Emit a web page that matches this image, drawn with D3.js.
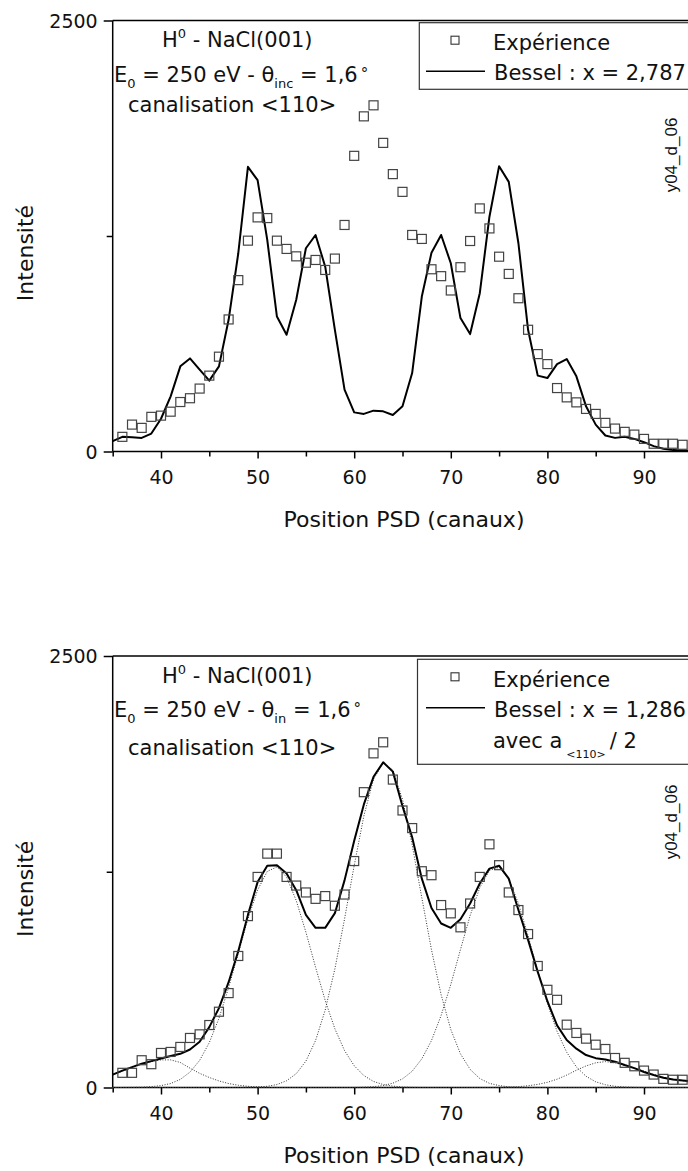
<!DOCTYPE html>
<html>
<head>
<meta charset="utf-8">
<script src="https://cdn.jsdelivr.net/npm/d3@7"></script>
<style>
  body { margin: 0; background: #fff; }
  svg { display: block; }
  text { font-family: "DejaVu Sans", sans-serif; fill: #111; }
</style>
</head>
<body>
<svg id="chart" width="688" height="1171"></svg>
<script>
// channels (canaux) of the PSD
var channels = [35,36,37,38,39,40,41,42,43,44,45,46,47,48,49,50,51,52,53,54,55,56,57,58,59,60,
  61,62,63,64,65,66,67,68,69,70,71,72,73,74,75,76,77,78,79,80,81,82,83,84,85,86,87,88,89,90,
  91,92,93,94,95];
var expChannels = [36,37,38,39,40,41,42,43,44,45,46,47,48,49,50,51,52,53,54,55,56,57,58,59,60,
  61,62,63,64,65,66,67,68,69,70,71,72,73,74,75,76,77,78,79,80,81,82,83,84,85,86,87,88,89,90,
  91,92,93,94];

// top : experience + Bessel x = 2,787
var topExp = [85,156,137,201,208,231,287,309,365,440,550,766,994,1223,1358,1354,1223,1175,1132,1095,
  1111,1053,1119,1314,1715,1944,2008,1790,1609,1506,1256,1233,1057,1017,934,1069,1221,1410,1294,1130,
  1030,889,706,565,507,368,314,285,247,218,166,133,114,98,73,45,45,45,39];
var topFit = [60,85,82,79,104,190,320,494,540,475,411,494,764,1150,1651,1574,1227,783,677,880,
  1179,1256,1072,706,359,227,218,237,233,212,262,455,899,1153,1256,1092,774,681,918,1362,
  1655,1564,1208,706,440,426,507,536,436,262,156,93,79,85,73,54,31,16,8,6,4];

// bottom : experience + Bessel x = 1,286 (a<110>/2) and its components
var botExp = [85,85,158,135,200,206,235,287,308,362,439,547,762,993,1220,1355,1355,1220,1170,1130,
  1093,1109,1053,1118,1312,1711,1936,2000,1784,1605,1503,1253,1230,1057,1009,928,1066,1220,1409,1288,
  1130,1028,889,704,566,508,364,316,283,248,223,171,143,123,98,75,50,45,45];
var botFit = [75,98,118,138,153,168,182,195,220,265,350,460,610,790,1000,1190,1285,1288,1240,1143,
  1000,925,925,1010,1200,1430,1640,1800,1884,1830,1630,1450,1210,1040,950,925,975,1066,1182,1268,
  1285,1210,1028,855,670,500,360,275,225,188,170,162,150,130,112,90,72,56,46,40,35];
var comp1 = [75,95,115,135,150,160,160,145,112,82,58,38,23,13,7,3,1,0,0,0,
  0,0,0,0,0,0,0,0,0,0,0,0,0,0,0,0,0,0,0,0,0,0,0,0,0,0,0,0,0,0,0,0,0,0,0,0,0,0,0,0,0];
var comp2 = [0,0,1,2,5,11,23,47,89,157,260,401,579,778,977,1144,1252,1278,1219,1083,
  900,697,504,340,214,126,69,35,17,8,3,1,0,0,0,0,0,0,0,0,0,0,0,0,0,0,0,0,0,0,0,0,0,0,0,0,0,0,0,0,0];
var comp3 = [0,0,0,0,0,0,0,0,0,0,0,0,0,0,1,3,7,17,39,80,
  153,272,449,687,976,1286,1573,1786,1881,1840,1669,1406,1099,798,537,336,195,105,52,24,
  11,4,1,0,0,0,0,0,0,0,0,0,0,0,0,0,0,0,0,0,0];
var comp4 = [0,0,0,0,0,0,0,0,0,0,0,0,0,0,0,0,0,0,0,0,
  0,0,0,0,0,0,2,5,11,25,50,94,166,272,418,597,799,996,1158,1258,
  1276,1207,1067,879,676,486,325,204,119,65,33,16,7,3,1,0,0,0,0,0,0];
var comp5 = [0,0,0,0,0,0,0,0,0,0,0,0,0,0,0,0,0,0,0,0,
  0,0,0,0,0,0,0,0,0,0,0,0,0,0,0,0,0,0,0,0,
  1,2,5,10,18,30,48,72,100,125,143,150,143,128,112,95,75,60,48,40,33];

var xTicksMajor = [40,50,60,70,80,90];
var xTicksMinor = [35,45,55,65,75,85,95];
var yTicksMajor = [0,2500];
var yTicksMinor = [1250];

var svg = d3.select('#chart');
var x = d3.scaleLinear().domain([35,95]).range([112.7, 692.3]);

function panel(cfg)
{
	var y = d3.scaleLinear().domain([0,2500]).range([cfg.y0, cfg.y1]);
	var g = svg.append('g');

	// frame
	g.append('line').attr('x1', x(35)).attr('x2', 700).attr('y1', y(2500)).attr('y2', y(2500))
		.attr('stroke', '#000').attr('stroke-width', 1.5);
	g.append('line').attr('x1', x(35)).attr('x2', x(35)).attr('y1', y(2500)).attr('y2', y(0))
		.attr('stroke', '#000').attr('stroke-width', 1.5);
	g.append('line').attr('x1', x(35)).attr('x2', 700).attr('y1', y(0)).attr('y2', y(0))
		.attr('stroke', '#000').attr('stroke-width', 1.5);

	// x axis
	var ax = g.append('g').attr('transform', 'translate(0,' + y(0) + ')');
	ax.call(d3.axisBottom(x).tickValues(xTicksMinor).tickSize(5).tickFormat(''));
	var axM = g.append('g').attr('transform', 'translate(0,' + y(0) + ')');
	axM.call(d3.axisBottom(x).tickValues(xTicksMajor).tickSize(7).tickFormat(d3.format('d')));
	g.selectAll('.domain').remove();
	axM.selectAll('text').attr('y', 32.5).attr('dy', 0)
		.style('font-size', '19px').style('font-family', '"DejaVu Sans", sans-serif').attr('fill', '#111');

	// y axis
	var ay = g.append('g').attr('transform', 'translate(' + x(35) + ',0)');
	ay.call(d3.axisLeft(y).tickValues(yTicksMajor).tickSize(9).tickPadding(6).tickFormat(d3.format('d')));
	var ayMin = g.append('g').attr('transform', 'translate(' + x(35) + ',0)');
	ayMin.call(d3.axisLeft(y).tickValues(yTicksMinor).tickSize(6).tickFormat(''));
	g.selectAll('.domain').remove();
	ay.selectAll('text').attr('dy', '0.36em')
		.style('font-size', '19px').style('font-family', '"DejaVu Sans", sans-serif').attr('fill', '#111');
	g.selectAll('.tick line').attr('stroke', '#000').attr('stroke-width', 1.5);

	// axis titles
	g.append('text').attr('x', 404).attr('y', y(0) + 75.5).attr('text-anchor', 'middle')
		.style('font-size', '22px').text('Position PSD (canaux)');
	g.append('text').attr('transform', 'translate(33,' + ((y(0) + y(2500)) / 2 + 17) + ') rotate(-90)')
		.attr('text-anchor', 'middle').style('font-size', '22px').text('Intensité');

	// component curves (dotted)
	var line = d3.line().x(function(d){ return x(d[0]); }).y(function(d){ return y(d[1]); });
	cfg.comps.forEach(function(c)
	{
		g.append('path').datum(d3.zip(channels, c)).attr('d', line)
			.attr('fill', 'none').attr('stroke', '#333').attr('stroke-width', 1)
			.attr('stroke-dasharray', '1,1.6');
	});

	// fit
	g.append('path').datum(d3.zip(channels, cfg.fit)).attr('d', line)
		.attr('fill', 'none').attr('stroke', '#000').attr('stroke-width', 2)
		.attr('stroke-linejoin', 'round');

	// experience
	g.selectAll('rect.exp').data(d3.zip(expChannels, cfg.exp)).enter()
		.append('rect').attr('class', 'exp')
		.attr('x', function(d){ return x(d[0]) - 4.5; })
		.attr('y', function(d){ return y(d[1]) - 4.5; })
		.attr('width', 9).attr('height', 9)
		.attr('fill', 'none').attr('stroke', '#444').attr('stroke-width', 1.2);

	// annotation
	var t1 = g.append('text').attr('x', 162).attr('y', cfg.y1 + cfg.a1).style('font-size', '21px');
	t1.append('tspan').text('H');
	t1.append('tspan').attr('dy', -9).style('font-size', '13px').text('0');
	t1.append('tspan').attr('dy', 9).text(' - NaCl(001)');

	var t2 = g.append('text').attr('x', 114).attr('y', cfg.y1 + cfg.a2).style('font-size', '21px');
	t2.append('tspan').text('E');
	t2.append('tspan').attr('dy', 6).style('font-size', '13px').text('0');
	t2.append('tspan').attr('dy', -6).text(' = 250 eV - θ');
	t2.append('tspan').attr('dy', 6).style('font-size', '13px').text(cfg.thetaSub);
	t2.append('tspan').attr('dy', -6).text(' = 1,6');
	t2.append('tspan').attr('dx', 3).style('font-size', '15px').attr('dy', -3).text('°');

	g.append('text').attr('x', 128).attr('y', cfg.y1 + cfg.a3).style('font-size', '21px')
		.text('canalisation <110>');

	// legend
	var lg = g.append('g');
	lg.append('rect').attr('x', cfg.lgX).attr('y', cfg.lgY).attr('width', 300).attr('height', cfg.lgH)
		.attr('fill', 'none').attr('stroke', '#333').attr('stroke-width', 1.2);
	lg.append('rect').attr('x', 451).attr('y', cfg.lgY + 13.5).attr('width', 8).attr('height', 8)
		.attr('fill', 'none').attr('stroke', '#333').attr('stroke-width', 1.1);
	lg.append('text').attr('x', 493).attr('y', cfg.lgY + 27.5).style('font-size', '21px').text('Expérience');
	lg.append('line').attr('x1', 426).attr('x2', 485).attr('y1', cfg.lgY + 48.5).attr('y2', cfg.lgY + 48.5)
		.attr('stroke', '#000').attr('stroke-width', 1.5);
	lg.append('text').attr('x', 494).attr('y', cfg.lgY + 57.5).style('font-size', '21px').text(cfg.fitLabel);
	if (cfg.extra)
	{
		var t4 = lg.append('text').attr('x', 493).attr('y', cfg.lgY + 89).style('font-size', '21px');
		t4.append('tspan').text('avec a');
		t4.append('tspan').attr('dx', 4).attr('dy', 10).style('font-size', '11px').text('<110>');
		t4.append('tspan').attr('dx', 4).attr('dy', -10).text('/ 2');
	}

	// file tag
	g.append('text').attr('transform', 'translate(677,' + cfg.tagY + ') rotate(-90)')
		.attr('text-anchor', 'middle').style('font-family', '"Liberation Sans", sans-serif')
		.style('font-size', '17px').attr('fill', '#333').text('y04_d_06');
}

panel({
	y0: 451.5, y1: 20.5,
	exp: topExp, fit: topFit, comps: [],
	a1: 26.5, a2: 61.5, a3: 91.5, thetaSub: 'inc',
	lgX: 419.3, lgY: 22.7, lgH: 66.6,
	fitLabel: 'Bessel : x = 2,787', extra: false,
	tagY: 155
});

panel({
	y0: 1087.5, y1: 656,
	exp: botExp, fit: botFit, comps: [comp1, comp2, comp3, comp4, comp5],
	a1: 27, a2: 61, a3: 99, thetaSub: 'in',
	lgX: 417.5, lgY: 659.3, lgH: 105,
	fitLabel: 'Bessel : x = 1,286', extra: true,
	tagY: 822
});
</script>
</body>
</html>
